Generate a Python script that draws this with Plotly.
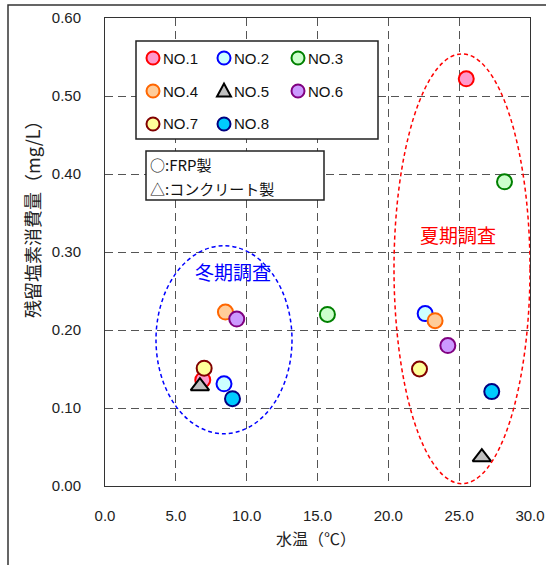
import plotly.graph_objects as go

# Sampling points: water temperature (°C) and residual chlorine consumption (mg/L)
# First value of each pair = winter survey, second = summer survey
stations = ["NO.1", "NO.2", "NO.3", "NO.4", "NO.5", "NO.6", "NO.7", "NO.8"]
water_temp = [
    [6.9, 25.5],
    [8.4, 22.6],
    [15.7, 28.2],
    [8.5, 23.3],
    [6.7, 26.6],
    [9.3, 24.2],
    [7.0, 22.2],
    [9.0, 27.3],
]
chlorine_use = [
    [0.136, 0.522],
    [0.131, 0.221],
    [0.220, 0.390],
    [0.223, 0.212],
    [0.128, 0.037],
    [0.214, 0.180],
    [0.151, 0.150],
    [0.112, 0.121],
]
fill_colors = ["#FF99CC", "#CCFFFF", "#CCFFCC", "#FFCC99", "#C0C0C0", "#CC99FF", "#FFFF99", "#00CCFF"]
edge_colors = ["#FF0000", "#0000FF", "#008000", "#FF6600", "#000000", "#800080", "#800000", "#000080"]
symbols = ["circle", "circle", "circle", "circle", "triangle-up", "circle", "circle", "circle"]

x_ticks = [0, 5, 10, 15, 20, 25, 30]
y_ticks = [0.0, 0.1, 0.2, 0.3, 0.4, 0.5, 0.6]

FONT = "Liberation Sans, Arial, Noto Sans CJK JP, sans-serif"
JP = "Noto Sans CJK JP, sans-serif"

# Plotting area in pixels: left 105, right 530, top 18, bottom 486
L, R, T, B = 105, 530, 18, 486


def px(xp):
    return (xp - L) / (R - L)


def py(yp):
    return (B - yp) / (B - T)


fig = go.Figure()

for i, name in enumerate(stations):
    fig.add_trace(go.Scatter(
        x=water_temp[i], y=chlorine_use[i], mode="markers", name=name,
        marker=dict(symbol=symbols[i], size=15 if symbols[i] == "circle" else 16,
                    color=fill_colors[i], line=dict(color=edge_colors[i], width=2)),
        showlegend=False, hoverinfo="x+y+name",
    ))

# Legend frames (white boxes drawn over the grid)
fig.add_shape(type="rect", xref="paper", yref="paper", x0=px(136), x1=px(378), y0=py(139), y1=py(41),
              line=dict(color="#222", width=1.5), fillcolor="white", layer="above")
fig.add_shape(type="rect", xref="paper", yref="paper", x0=px(146), x1=px(324), y0=py(200), y1=py(151),
              line=dict(color="#222", width=1.5), fillcolor="white", layer="above")

# Legend entries: symbol + station label, three per row
legend_cols = [153, 224, 298]
legend_rows = [58, 91, 124]
for i, name in enumerate(stations):
    cx = px(legend_cols[i % 3])
    cy = py(legend_rows[i // 3])
    if symbols[i] == "circle":
        fig.add_shape(type="circle", xref="paper", yref="paper",
                      xsizemode="pixel", ysizemode="pixel", xanchor=cx, yanchor=cy,
                      x0=-6.5, x1=6.5, y0=-6.5, y1=6.5,
                      fillcolor=fill_colors[i], line=dict(color=edge_colors[i], width=2),
                      layer="above")
    else:
        fig.add_shape(type="path", xref="paper", yref="paper",
                      xsizemode="pixel", ysizemode="pixel", xanchor=cx, yanchor=cy,
                      path="M -7,-5.5 L 7,-5.5 L 0,7.5 Z",
                      fillcolor=fill_colors[i], line=dict(color=edge_colors[i], width=2),
                      layer="above")
    fig.add_annotation(x=px(legend_cols[i % 3] + 8), y=cy, xref="paper", yref="paper", text=name,
                       showarrow=False, xanchor="left", yanchor="middle",
                       font=dict(family=FONT, size=15, color="#111"))

fig.add_annotation(x=px(148), y=py(164), xref="paper", yref="paper", text="○:FRP製",
                   showarrow=False, xanchor="left", yanchor="middle",
                   font=dict(family=JP, size=15, color="#111"))
fig.add_annotation(x=px(148), y=py(188), xref="paper", yref="paper", text="△:コンクリート製",
                   showarrow=False, xanchor="left", yanchor="middle",
                   font=dict(family=JP, size=15, color="#111"))

# Survey-season groupings
fig.add_shape(type="circle", xref="x", yref="y", x0=3.6, x1=13.2, y0=0.067, y1=0.308,
              line=dict(color="#0000FF", width=1.5, dash="4px,3px"))
fig.add_shape(type="circle", xref="x", yref="y", x0=20.4, x1=30.0, y0=0.003, y1=0.554,
              line=dict(color="#FF0000", width=1.5, dash="4px,3px"))
fig.add_annotation(x=9.0, y=0.275, xref="x", yref="y", text="冬期調査", showarrow=False,
                   font=dict(family=JP, size=19, color="#0000FF"))
fig.add_annotation(x=24.9, y=0.322, xref="x", yref="y", text="夏期調査", showarrow=False,
                   font=dict(family=JP, size=19, color="#FF0000"))

# Axis titles
fig.add_annotation(x=px(32), y=py(215), xref="paper", yref="paper", text="残留塩素消費量（mg/L）",
                   textangle=-90, showarrow=False, xanchor="center", yanchor="middle",
                   font=dict(family=JP, size=18, color="#222"))
fig.add_annotation(x=px(316), y=py(538), xref="paper", yref="paper", text="水温（℃）",
                   showarrow=False, xanchor="center", yanchor="middle",
                   font=dict(family=JP, size=16, color="#222"))

# Outer frame around the whole chart
fig.add_shape(type="rect", xref="paper", yref="paper", x0=px(8), x1=px(600), y0=py(620), y1=py(5),
              line=dict(color="#333", width=1.5), layer="below")

fig.update_layout(
    width=546, height=565,
    margin=dict(l=L, r=546 - R, t=T, b=565 - B),
    paper_bgcolor="white", plot_bgcolor="white",
    font=dict(family=FONT, size=15, color="#222"),
    xaxis=dict(range=[0, 30], tickvals=x_ticks, tickformat=".1f", automargin=False,
               showgrid=True, gridcolor="#555", griddash="8px,5px", gridwidth=1,
               showline=True, linecolor="#333", linewidth=1, mirror=True,
               ticks="", zeroline=False, ticklabelstandoff=16),
    yaxis=dict(range=[0, 0.6], tickvals=y_ticks, tickformat=".2f", automargin=False,
               showgrid=True, gridcolor="#555", griddash="8px,5px", gridwidth=1,
               showline=True, linecolor="#333", linewidth=1, mirror=True,
               ticks="", zeroline=False, ticklabelstandoff=20),
)

fig.write_html("out.html")
